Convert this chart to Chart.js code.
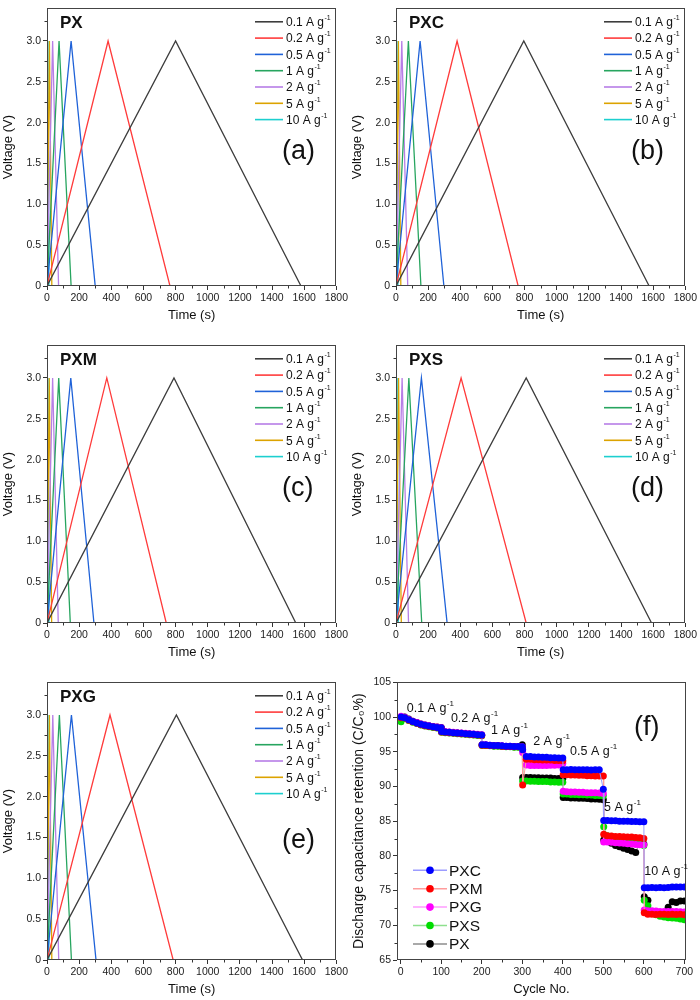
<!DOCTYPE html>
<html>
<head>
<meta charset="utf-8">
<script src="https://cdn.jsdelivr.net/npm/chart.js@4.4.1/dist/chart.umd.min.js"></script>
<style>
  body { margin: 0; background: #fff; }
  #page { position: relative; width: 700px; height: 1000px; overflow: hidden; }
  canvas { position: absolute; }
</style>
</head>
<body>
<div id="page">
  <canvas id="ca" width="350" height="326" style="left:0;top:0"></canvas>
  <canvas id="cb" width="350" height="326" style="left:349px;top:0"></canvas>
  <canvas id="cc" width="350" height="326" style="left:0;top:337px"></canvas>
  <canvas id="cd" width="350" height="326" style="left:349px;top:337px"></canvas>
  <canvas id="ce" width="350" height="326" style="left:0;top:674px"></canvas>
  <canvas id="cf" width="350" height="326" style="left:350px;top:674px"></canvas>
</div>
<script>
// ---- GCD data (time in s at start, at 3.0 V, at end of discharge) ----
const currents = ["0.1", "0.2", "0.5", "1", "2", "5", "10"];
const gcdVolt = [0, 3.0, 0];
const timeTicks = [0, 200, 400, 600, 800, 1000, 1200, 1400, 1600, 1800];
const voltTicks = [0, 0.5, 1.0, 1.5, 2.0, 2.5, 3.0];

const pxTimes  = [[0, 800, 1580], [0, 380, 765], [0, 150, 300], [0, 75, 150], [0, 35, 72], [0, 15, 30], [0, 6, 12]];
const pxcTimes = [[0, 795, 1575], [0, 380, 760], [0, 150, 298], [0, 77, 155], [0, 36, 73], [0, 15, 30], [0, 6, 12]];
const pxmTimes = [[0, 790, 1548], [0, 372, 742], [0, 148, 292], [0, 73, 145], [0, 35, 70], [0, 14, 29], [0, 6, 12]];
const pxsTimes = [[0, 810, 1590], [0, 405, 810], [0, 158, 318], [0, 80, 160], [0, 38, 78], [0, 16, 33], [0, 7, 14]];
const pxgTimes = [[0, 805, 1590], [0, 392, 785], [0, 152, 305], [0, 77, 152], [0, 36, 73], [0, 15, 30], [0, 6, 12]];

const gcdColors = ["#3d3d3d", "#ff3b3b", "#1f62d8", "#27a55f", "#b77ee6", "#dca300", "#1dcfcf"];

// ---- rate capability data ----
const rateSteps = ["0.1", "0.2", "1", "2", "0.5", "5", "10"];
const cycleTicks = [0, 100, 200, 300, 400, 500, 600, 700];
const retentionTicks = [65, 70, 75, 80, 85, 90, 95, 100, 105];
const cycles = [
  1, 10, 20, 30, 40, 50, 60, 70, 80, 90, 100,
  101, 110, 120, 130, 140, 150, 160, 170, 180, 190, 200,
  201, 210, 220, 230, 240, 250, 260, 270, 280, 290, 300,
  301, 310, 320, 330, 340, 350, 360, 370, 380, 390, 400,
  401, 410, 420, 430, 440, 450, 460, 470, 480, 490, 500,
  501, 510, 520, 530, 540, 550, 560, 570, 580, 590, 600,
  601, 610, 620, 630, 640, 650, 660, 670, 680, 690, 700
];
const pxc = [
  100.0, 99.9, 99.6, 99.35, 99.15, 98.95, 98.8, 98.7, 98.6, 98.5, 98.45,
  97.9, 97.85, 97.8, 97.75, 97.7, 97.65, 97.6, 97.55, 97.5, 97.45, 97.4,
  96.0, 96.0, 95.95, 95.9, 95.9, 95.85, 95.8, 95.8, 95.75, 95.75, 95.7,
  95.3, 94.3, 94.3, 94.25, 94.25, 94.2, 94.2, 94.15, 94.15, 94.1, 94.1,
  92.4, 92.4, 92.45, 92.4, 92.4, 92.4, 92.4, 92.35, 92.4, 92.4, 89.6,
  85.1, 85.1, 85.05, 85.05, 85.0, 85.0, 85.0, 84.95, 84.95, 84.9, 84.9,
  75.4, 75.4, 75.45, 75.4, 75.45, 75.4, 75.45, 75.5, 75.5, 75.5, 75.5
];
const pxm = [
  99.9, 99.85, 99.55, 99.3, 99.1, 98.9, 98.75, 98.65, 98.55, 98.45, 98.4,
  97.85, 97.8, 97.75, 97.7, 97.65, 97.6, 97.55, 97.5, 97.45, 97.4, 97.35,
  95.95, 95.95, 95.9, 95.85, 95.85, 95.8, 95.75, 95.75, 95.7, 95.7, 95.65,
  90.2, 93.9, 93.9, 93.85, 93.85, 93.8, 93.8, 93.8, 93.75, 93.75, 93.7,
  91.7, 91.7, 91.65, 91.65, 91.6, 91.6, 91.55, 91.55, 91.5, 91.5, 91.5,
  83.1, 82.9, 82.85, 82.8, 82.8, 82.75, 82.7, 82.7, 82.65, 82.6, 82.5,
  71.8, 71.6, 71.6, 71.55, 71.6, 71.6, 71.55, 71.6, 71.55, 71.6, 71.5
];
const pxg = [
  100.1, 99.95, 99.65, 99.4, 99.2, 99.0, 98.85, 98.75, 98.65, 98.55, 98.5,
  97.95, 97.9, 97.85, 97.8, 97.75, 97.7, 97.65, 97.6, 97.55, 97.5, 97.45,
  96.0, 96.0, 95.95, 95.9, 95.9, 95.85, 95.8, 95.8, 95.75, 95.75, 95.7,
  94.9, 93.1, 93.0, 93.0, 93.0, 93.0, 93.0, 93.05, 93.05, 93.1, 93.3,
  89.3, 89.25, 89.2, 89.2, 89.15, 89.15, 89.1, 89.1, 89.1, 89.05, 89.0,
  82.0, 82.0, 81.95, 81.9, 81.85, 81.8, 81.75, 81.7, 81.65, 81.6, 81.6,
  72.2, 72.1, 72.1, 72.05, 72.0, 72.0, 72.0, 72.0, 72.0, 71.95, 71.9
];
const pxs = [
  99.3, 99.8, 99.5, 99.25, 99.05, 98.85, 98.7, 98.6, 98.5, 98.4, 98.35,
  97.8, 97.75, 97.7, 97.65, 97.6, 97.55, 97.5, 97.45, 97.4, 97.35, 97.3,
  95.9, 95.9, 95.85, 95.8, 95.8, 95.75, 95.7, 95.7, 95.65, 95.65, 95.6,
  90.8, 90.8, 90.75, 90.75, 90.7, 90.7, 90.7, 90.65, 90.65, 90.6, 90.6,
  88.9, 88.9, 88.85, 88.85, 88.8, 88.8, 88.75, 88.75, 88.7, 88.7, 88.65,
  84.2, 82.9, 82.8, 82.65, 82.5, 82.35, 82.2, 82.05, 81.9, 81.7, 81.5,
  73.6, 72.8, 72.0, 71.5, 71.3, 71.2, 71.1, 71.05, 71.0, 70.9, 70.8
];
const px = [
  100.0, 100.0, 99.7, 99.4, 99.2, 99.0, 98.85, 98.75, 98.65, 98.55, 98.5,
  97.9, 97.85, 97.8, 97.75, 97.7, 97.65, 97.6, 97.55, 97.5, 97.45, 97.4,
  96.0, 95.95, 95.9, 95.85, 95.85, 95.8, 95.75, 95.75, 95.7, 95.7, 96.0,
  91.3, 91.3, 91.3, 91.25, 91.25, 91.2, 91.2, 91.2, 91.15, 91.15, 91.1,
  88.4, 88.4, 88.35, 88.35, 88.3, 88.3, 88.25, 88.2, 88.2, 88.15, 88.1,
  82.3, 82.1, 81.8, 81.5, 81.3, 81.1, 80.9, 80.7, 80.5, 82.0, 81.7,
  74.1, 73.6, 72.0, 71.9, 71.8, 71.8, 72.6, 73.4, 73.3, 73.5, 73.5
];
const rateNames = ["PXC", "PXM", "PXG", "PXS", "PX"];
const rateSeries = [pxc, pxm, pxg, pxs, px];
const rateDot = ["#0000ff", "#ff0000", "#ff00ff", "#00dd00", "#000000"];
const rateLine = ["#9c9cff", "#ff9c9c", "#ff9cff", "#8ee08e", "#8c8c8c"];

const FONT = '"Liberation Sans", Arial, sans-serif';

function supText(ctx, base, sup, x, y, size) {
  ctx.font = size + "px " + FONT;
  ctx.fillText(base, x, y);
  const w = ctx.measureText(base).width;
  ctx.font = Math.round(size * 0.62) + "px " + FONT;
  ctx.fillText(sup, x + w + 0.5, y - size * 0.38);
}

// frame box + minor ticks
const framePlugin = {
  id: "frame",
  afterDraw(chart, args, o) {
    const { ctx, chartArea: a, scales } = chart;
    const x = scales.x, y = scales.y;
    ctx.save();
    ctx.strokeStyle = "#444";
    ctx.lineWidth = 1;
    ctx.strokeRect(Math.round(a.left) + 0.5, Math.round(a.top) + 0.5,
      Math.round(a.right - a.left) - 1, Math.round(a.bottom - a.top) - 1);
    ctx.strokeStyle = "#333";
    ctx.beginPath();
    for (let v = o.xMinor[0]; v <= x.max; v += o.xMinor[1]) {
      const p = Math.round(x.getPixelForValue(v)) + 0.5;
      ctx.moveTo(p, a.bottom); ctx.lineTo(p, a.bottom + 2.5);
    }
    for (let v = o.yMinor[0]; v <= y.max; v += o.yMinor[1]) {
      const p = Math.round(y.getPixelForValue(v)) + 0.5;
      ctx.moveTo(a.left, p); ctx.lineTo(a.left - 2.5, p);
    }
    ctx.stroke();
    ctx.restore();
  }
};

// panel name, tag and legend for the GCD panels
const gcdText = {
  id: "gcdText",
  afterDraw(chart, args, o) {
    const { ctx, chartArea: a } = chart;
    ctx.save();
    ctx.textBaseline = "middle";
    ctx.fillStyle = "#111";
    ctx.font = "bold 17px " + FONT;
    ctx.fillText(o.name, a.left + 13, a.top + 15);
    ctx.font = "27px " + FONT;
    ctx.fillText(o.tag, a.left + 235, a.top + o.tagY);
    chart.data.datasets.forEach((ds, i) => {
      const yy = a.top + 13.5 + 16.3 * i;
      ctx.strokeStyle = ds.borderColor;
      ctx.lineWidth = 1.6;
      ctx.beginPath();
      ctx.moveTo(a.left + 208, yy); ctx.lineTo(a.left + 236, yy);
      ctx.stroke();
      ctx.fillStyle = "#111";
      supText(ctx, currents[i] + " A g", "-1", a.left + 239, yy + 1, 12);
    });
    ctx.restore();
  }
};

function gcdChart(id, name, tag, times, tagY) {
  new Chart(document.getElementById(id), {
    type: "line",
    data: {
      datasets: currents.map((c, i) => ({
        label: c + " A g⁻¹",
        data: gcdVolt.map((v, k) => ({ x: times[i][k], y: v })),
        borderColor: gcdColors[i],
        borderWidth: 1.3,
        pointRadius: 0,
        tension: 0
      }))
    },
    options: {
      responsive: false,
      animation: false,
      events: [],
      layout: { padding: { left: 0, right: 13, top: 2, bottom: 3 } },
      plugins: {
        legend: { display: false },
        tooltip: { enabled: false },
        frame: { xMinor: [100, 200], yMinor: [0.25, 0.5] },
        gcdText: { name: name, tag: tag, tagY: tagY }
      },
      scales: {
        x: {
          type: "linear", min: 0, max: 1800,
          afterBuildTicks: s => { s.ticks = timeTicks.map(v => ({ value: v })); },
          afterFit: s => { s.height = 37; },
          grid: { drawOnChartArea: false, tickLength: 4, tickColor: "#333" },
          border: { display: false },
          ticks: {
            color: "#222", padding: 2, maxRotation: 0, autoSkip: false, font: { family: FONT, size: 10.5 },
            callback: v => String(v)
          },
          title: { display: true, text: "Time (s)", color: "#111", padding: 0, font: { family: FONT, size: 13 } }
        },
        y: {
          type: "linear", min: 0, max: 3.4,
          afterBuildTicks: s => { s.ticks = voltTicks.map(v => ({ value: v })); },
          afterFit: s => { s.width = 47; },
          grid: { drawOnChartArea: false, tickLength: 4, tickColor: "#333" },
          border: { display: false },
          ticks: {
            color: "#222", padding: 2, font: { family: FONT, size: 10.5 },
            callback: v => (v === 0 ? "0" : v.toFixed(1))
          },
          title: { display: true, text: "Voltage (V)", color: "#111", padding: { top: 1, bottom: 0 }, font: { family: FONT, size: 13 } }
        }
      }
    },
    plugins: [framePlugin, gcdText]
  });
}

gcdChart("ca", "PX", "(a)", pxTimes, 143);
gcdChart("cb", "PXC", "(b)", pxcTimes, 143);
gcdChart("cc", "PXM", "(c)", pxmTimes, 143);
gcdChart("cd", "PXS", "(d)", pxsTimes, 143);
gcdChart("ce", "PXG", "(e)", pxgTimes, 158);

// rate labels placed at (cycle, retention) positions
const rateNotePos = [[15, 101.2], [124, 99.8], [223, 98.1], [327, 96.5], [418, 95.0], [502, 86.9], [601, 77.7]];

const rateText = {
  id: "rateText",
  afterDraw(chart) {
    const { ctx, chartArea: a, scales: { x, y } } = chart;
    ctx.save();
    ctx.textBaseline = "middle";
    ctx.fillStyle = "#111";
    rateSteps.forEach((r, i) => {
      supText(ctx, r + " A g", "-1", x.getPixelForValue(rateNotePos[i][0]), y.getPixelForValue(rateNotePos[i][1]), 12.5);
    });
    ctx.font = "27px " + FONT;
    ctx.fillText("(f)", a.left + 237, a.top + 45);
    chart.data.datasets.forEach((ds, i) => {
      const yy = a.top + 188 + 18.4 * i;
      ctx.strokeStyle = rateLine[i];
      ctx.lineWidth = 1.5;
      ctx.beginPath();
      ctx.moveTo(a.left + 16, yy); ctx.lineTo(a.left + 50, yy);
      ctx.stroke();
      ctx.fillStyle = rateDot[i];
      ctx.beginPath();
      ctx.arc(a.left + 33, yy, 3.8, 0, Math.PI * 2);
      ctx.fill();
      ctx.fillStyle = "#111";
      ctx.font = "15.5px " + FONT;
      ctx.fillText(rateNames[i], a.left + 52, yy + 1);
    });
    ctx.restore();
  }
};

new Chart(document.getElementById("cf"), {
  type: "line",
  data: {
    datasets: rateNames.map((n, i) => ({
      label: n,
      data: cycles.map((c, k) => ({ x: c, y: rateSeries[i][k] })),
      borderColor: rateLine[i],
      borderWidth: 1,
      pointRadius: 3.5,
      pointBorderWidth: 0,
      pointBackgroundColor: rateDot[i],
      tension: 0
    }))
  },
  options: {
    responsive: false,
    animation: false,
    events: [],
    layout: { padding: { left: 0, right: 14, top: 2, bottom: 3 } },
    plugins: {
      legend: { display: false },
      tooltip: { enabled: false },
      frame: { xMinor: [50, 100], yMinor: [67.5, 5] }
    },
    scales: {
      x: {
        type: "linear", min: -9, max: 704,
        afterBuildTicks: s => { s.ticks = cycleTicks.map(v => ({ value: v })); },
        afterFit: s => { s.height = 37; },
        grid: { drawOnChartArea: false, tickLength: 4, tickColor: "#333" },
        border: { display: false },
        ticks: { color: "#222", padding: 2, maxRotation: 0, autoSkip: false, font: { family: FONT, size: 10.5 } },
        title: { display: true, text: "Cycle No.", color: "#111", padding: 0, font: { family: FONT, size: 13 } }
      },
      y: {
        type: "linear", min: 65, max: 105,
        afterBuildTicks: s => { s.ticks = retentionTicks.map(v => ({ value: v })); },
        afterFit: s => { s.width = 47; },
        grid: { drawOnChartArea: false, tickLength: 4, tickColor: "#333" },
        border: { display: false },
        ticks: { color: "#222", padding: 2, font: { family: FONT, size: 10.5 } },
        title: { display: true, text: "Discharge capacitance retention (C/C₀%)", color: "#111", padding: { top: 1, bottom: 0 }, font: { family: FONT, size: 14 } }
      }
    }
  },
  plugins: [framePlugin, rateText]
});
</script>
</body>
</html>
